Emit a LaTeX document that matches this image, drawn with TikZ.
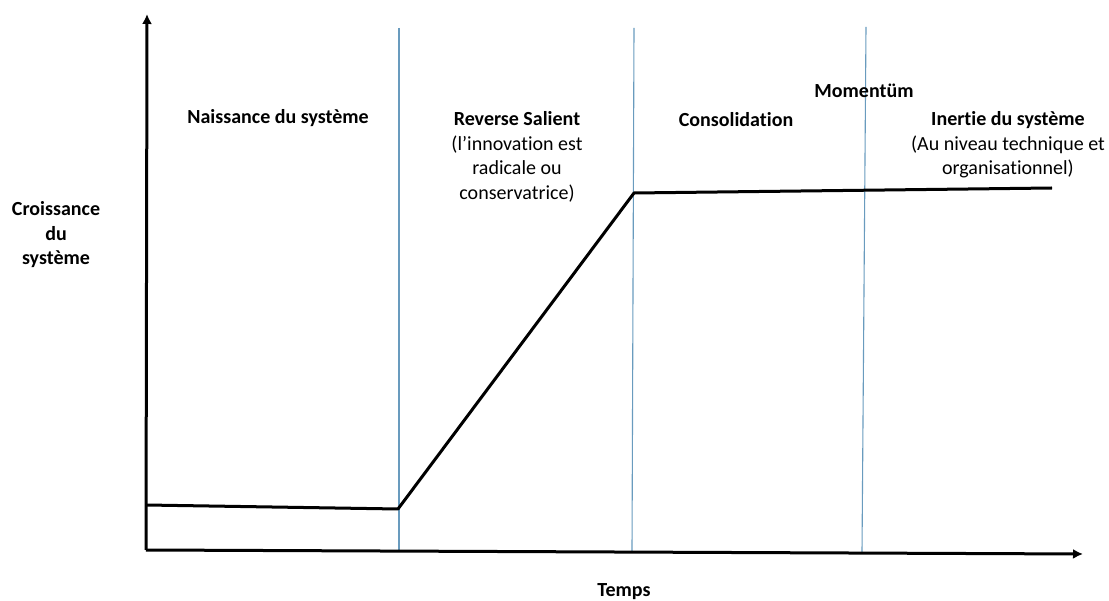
\documentclass[tikz,border=0pt]{standalone}
\usepackage{fontspec}
\setmainfont{Carlito}[Ligatures=NoCommon]
\usetikzlibrary{arrows.meta}
\definecolor{divider}{RGB}{105,155,190}
\tikzset{
  axis/.style={line width=3pt, -{Latex[length=10pt,width=10pt]}},
  curve/.style={line width=3pt, line join=round},
  divline/.style={draw=divider, line width=1.1pt},
  lbl/.style={inner sep=0pt, align=center, font=\fontsize{20}{24.5}\selectfont\bfseries}
}
\begin{document}
\begin{tikzpicture}[x=1pt,y=-1pt]
\useasboundingbox (0,0) rectangle (1109,601);
% coordinates
\coordinate (O) at (146,550);
\coordinate (Ytop) at (147,14);
\coordinate (Xend) at (1083,554);
\coordinate (v1t) at (399,28);
\coordinate (v1b) at (399,550);
\coordinate (v2t) at (634,28);
\coordinate (v2b) at (632,551);
\coordinate (v3t) at (866,27);
\coordinate (v3b) at (862,552);
\coordinate (p0) at (146,505);
\coordinate (p1) at (398,509);
\coordinate (p2) at (634,193);
\coordinate (p3) at (1052,188);
% dividers
\draw[divline] (v1t) -- (v1b);
\draw[divline] (v2t) -- (v2b);
\draw[divline] (v3t) -- (v3b);
% curve
\draw[curve] (p0) -- (p1) -- (p2) -- (p3);
% axes
\draw[axis] (O) -- (Ytop);
\draw[axis] (O) -- (Xend);
% labels
\node[lbl] (ylab) at (56,235) {Croissance\\du\\système};
\node[lbl] (xlab) at (624,592) {Temps};
\node[lbl] (naiss) at (278,118) {Naissance du système};
\node[lbl] (rev) at (517,157) {Reverse Salient\\{\mdseries(l’innovation est}\\{\mdseries radicale ou}\\{\mdseries conservatrice)}};
\node[lbl] (cons) at (736,120) {Consolidation};
\node[lbl] (mom) at (864,91) {Momentüm};
\node[lbl] (inert) at (1008,145) {Inertie du système\\{\mdseries(Au niveau technique et}\\{\mdseries organisationnel)}};
\end{tikzpicture}
\end{document}
